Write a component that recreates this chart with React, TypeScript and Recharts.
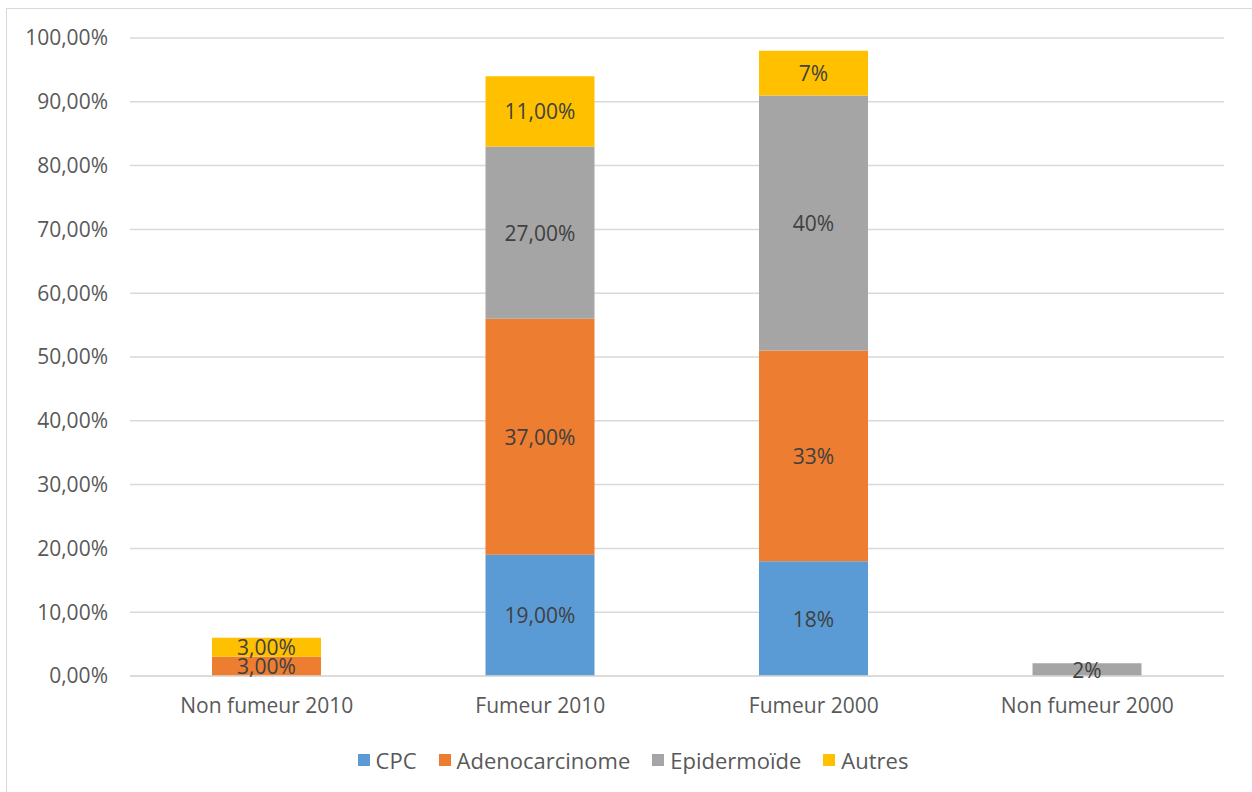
import React from "react";
import { BarChart, Bar, XAxis, YAxis, CartesianGrid, LabelList } from "recharts";

const categories = ["Non fumeur 2010", "Fumeur 2010", "Fumeur 2000", "Non fumeur 2000"];
const cpc = [0, 19, 18, 0];
const adenocarcinome = [3, 37, 33, 0];
const epidermoide = [0, 27, 40, 2];
const autres = [3, 11, 7, 0];
// label decimals per category (Excel number formats differ by column)
const labelDecimals = [2, 2, 0, 0];
const yTicks = [0, 10, 20, 30, 40, 50, 60, 70, 80, 90, 100];

const seriesDefs = [
  { key: "CPC", color: "#5B9BD5", values: cpc },
  { key: "Adenocarcinome", color: "#ED7D31", values: adenocarcinome },
  { key: "Epidermoïde", color: "#A5A5A5", values: epidermoide },
  { key: "Autres", color: "#FFC000", values: autres },
];

const fmtPct = (v: number, d: number) => v.toFixed(d).replace(".", ",") + "%";

const data = categories.map((name, i) => {
  const row: Record<string, any> = { name };
  seriesDefs.forEach((s) => {
    const v = s.values[i];
    row[s.key] = v;
    row[s.key + "_label"] = v ? fmtPct(v, labelDecimals[i]) : "";
  });
  return row;
});

const FONT = "'Open Sans', sans-serif";
const TEXT = "#595959";
const FS = 21;

const renderLabel = (props: any) => {
  const { x, y, width, height, value } = props;
  if (!value) return null;
  return (
    <text
      x={Number(x) + Number(width) / 2}
      y={Number(y) + Number(height) / 2}
      textAnchor="middle"
      dominantBaseline="central"
      fill="#404040"
      fontSize={FS}
      fontFamily={FONT}
    >
      {value}
    </text>
  );
};

export default function App() {
  return (
    <div style={{ position: "absolute", left: 0, top: 0, width: 1252, height: 792, background: "#fff", overflow: "hidden" }}>
      <div
        style={{
          position: "absolute",
          left: 6,
          top: 8,
          width: 1260,
          height: 800,
          border: "1.5px solid #d9d9d9",
          boxSizing: "border-box",
        }}
      />
      <div style={{ position: "absolute", left: 0, top: 0 }}>
        <BarChart
          width={1252}
          height={792}
          data={data}
          margin={{ top: 38, right: 28, bottom: 86, left: 0 }}
          barSize={109}
        >
          <CartesianGrid vertical={false} stroke="#d9d9d9" strokeWidth={1.5} />
          <XAxis
            dataKey="name"
            height={30}
            axisLine={{ stroke: "#d9d9d9", strokeWidth: 1.5 }}
            tickLine={false}
            tickMargin={16}
            tick={{ fill: TEXT, fontSize: FS, fontFamily: FONT }}
          />
          <YAxis
            width={130}
            domain={[0, 100]}
            ticks={yTicks}
            axisLine={false}
            tickLine={false}
            tickMargin={16}
            tickFormatter={(v: number) => fmtPct(v, 2)}
            tick={{ fill: TEXT, fontSize: FS, fontFamily: FONT }}
            interval={0}
          />
          {seriesDefs.map((s) => (
            <Bar key={s.key} dataKey={s.key} stackId="a" fill={s.color} isAnimationActive={false}>
              <LabelList dataKey={s.key + "_label"} content={renderLabel} />
            </Bar>
          ))}
        </BarChart>
      </div>
      <div
        style={{
          position: "absolute",
          left: 0,
          top: 746,
          width: 1252,
          display: "flex",
          justifyContent: "center",
          alignItems: "center",
          fontFamily: FONT,
          fontSize: 22,
          color: TEXT,
          gap: 22,
          paddingLeft: 14,
          boxSizing: "border-box",
        }}
      >
        {seriesDefs.map((s) => (
          <div key={s.key} style={{ display: "flex", alignItems: "center" }}>
            <span style={{ display: "inline-block", width: 12, height: 12, background: s.color, marginRight: 6 }} />
            <span style={{ lineHeight: "28px" }}>{s.key}</span>
          </div>
        ))}
      </div>
    </div>
  );
}
